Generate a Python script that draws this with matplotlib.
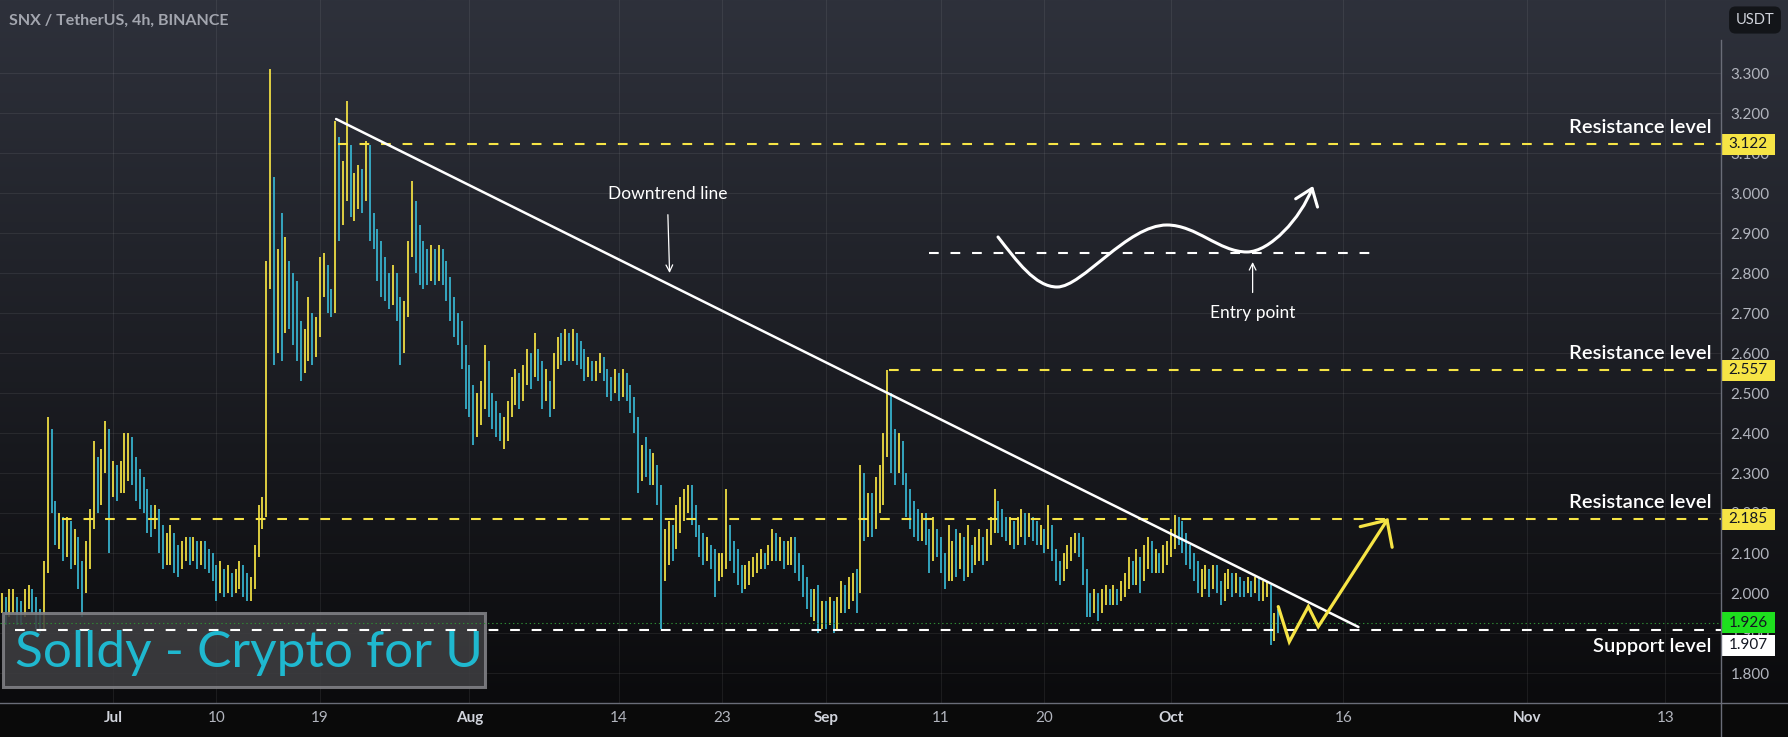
import numpy as np
import matplotlib
matplotlib.use("Agg")
import matplotlib.pyplot as plt
from matplotlib.colors import LinearSegmentedColormap
from matplotlib.lines import Line2D
from matplotlib.patches import Rectangle, FancyArrowPatch
from matplotlib.path import Path

plt.rcParams['font.family'] = ['Lato', 'DejaVu Sans']
plt.rcParams['lines.scale_dashes'] = False

# SNX/USDT 8h bars, x = days since 1 Jul 2023, first bar 21 Jun 00:00
first_day = -10
first_open = 1.95
closes = [
    1.96, 1.98, 1.95, 1.97, 1.99, 1.96, 1.95, 1.98, 2.00, 1.97, 1.93, 1.92,
    2.06, 2.36, 2.22, 2.15, 2.18, 2.12, 2.16, 2.10, 2.12, 2.05, 2.02, 2.10,
    2.19, 2.30, 2.25, 2.33, 2.40, 2.28, 2.30, 2.27, 2.30, 2.31, 2.37, 2.32,
    2.28, 2.26, 2.24, 2.20, 2.18, 2.20, 2.14, 2.09, 2.12, 2.13, 2.10, 2.08,
    2.11, 2.12, 2.10, 2.12, 2.09, 2.11, 2.10, 2.08, 2.06, 2.02, 2.04, 2.00,
    2.03, 2.01, 2.04, 2.05, 2.02, 2.00, 2.02, 2.10, 2.19, 2.20, 2.78, 2.90,
    2.62, 2.78, 2.65, 2.80, 2.72, 2.68, 2.63, 2.58, 2.60, 2.66, 2.62, 2.64,
    2.78, 2.80, 2.74, 2.72, 3.12, 2.96, 3.02, 3.10, 2.98, 3.00, 3.04, 2.98,
    3.08, 2.92, 2.90, 2.84, 2.80, 2.78, 2.76, 2.78, 2.72, 2.62, 2.70, 2.85,
    2.96, 2.88, 2.84, 2.82, 2.80, 2.84, 2.80, 2.83, 2.81, 2.77, 2.72, 2.68,
    2.66, 2.60, 2.50, 2.48, 2.42, 2.45, 2.50, 2.55, 2.47, 2.44, 2.42, 2.40,
    2.41, 2.45, 2.50, 2.52, 2.49, 2.54, 2.57, 2.55, 2.60, 2.56, 2.50, 2.52,
    2.47, 2.58, 2.62, 2.60, 2.63, 2.61, 2.63, 2.60, 2.59, 2.55, 2.57, 2.55,
    2.56, 2.58, 2.56, 2.52, 2.50, 2.53, 2.51, 2.53, 2.50, 2.48, 2.42, 2.32,
    2.35, 2.33, 2.30, 2.30, 2.25, 2.08, 2.10, 2.14, 2.12, 2.18, 2.21, 2.24,
    2.25, 2.20, 2.17, 2.13, 2.10, 2.12, 2.09, 2.05, 2.07, 2.08, 2.16, 2.12,
    2.09, 2.05, 2.03, 2.04, 2.06, 2.07, 2.08, 2.09, 2.08, 2.10, 2.14, 2.11,
    2.12, 2.09, 2.11, 2.13, 2.08, 2.06, 2.02, 1.99, 1.96, 1.97, 1.93, 1.95,
    1.94, 1.96, 1.95, 1.97, 2.00, 1.98, 2.01, 2.03, 2.02, 2.28, 2.20, 2.23,
    2.18, 2.24, 2.28, 2.36, 2.45, 2.38, 2.33, 2.37, 2.30, 2.25, 2.20, 2.18,
    2.16, 2.18, 2.14, 2.10, 2.14, 2.12, 2.08, 2.04, 2.06, 2.10, 2.07, 2.12,
    2.06, 2.10, 2.08, 2.10, 2.12, 2.09, 2.13, 2.17, 2.22, 2.19, 2.17, 2.15,
    2.17, 2.14, 2.16, 2.18, 2.15, 2.19, 2.16, 2.14, 2.15, 2.13, 2.15, 2.10,
    2.06, 2.04, 2.07, 2.10, 2.12, 2.13, 2.12, 2.04, 1.98, 1.97, 1.99, 1.96,
    1.98, 2.00, 1.99, 2.00, 1.98, 2.01, 2.03, 2.06, 2.05, 2.07, 2.04, 2.09,
    2.11, 2.07, 2.08, 2.06, 2.09, 2.11, 2.14, 2.17, 2.15, 2.13, 2.10, 2.08,
    2.06, 2.03, 2.04, 2.05, 2.03, 2.06, 2.02, 1.99, 2.03, 2.04, 2.02, 2.03,
    2.02, 2.01, 2.02, 2.01, 2.03, 2.00, 2.00, 2.01, 1.90, 1.93, 1.926,
]
highs = [
    1.99, 2.00, 1.99, 2.01, 2.01, 1.99, 1.98, 2.01, 2.02, 2.01, 1.99, 1.96,
    2.08, 2.44, 2.41, 2.23, 2.20, 2.19, 2.19, 2.18, 2.16, 2.14, 2.08, 2.13,
    2.21, 2.38, 2.34, 2.36, 2.43, 2.41, 2.33, 2.32, 2.33, 2.40, 2.40, 2.39,
    2.34, 2.31, 2.29, 2.26, 2.22, 2.22, 2.21, 2.17, 2.15, 2.17, 2.15, 2.12,
    2.13, 2.14, 2.14, 2.14, 2.13, 2.13, 2.13, 2.11, 2.10, 2.07, 2.08, 2.06,
    2.07, 2.05, 2.06, 2.08, 2.07, 2.05, 2.04, 2.12, 2.22, 2.24, 2.83, 3.31,
    3.04, 2.86, 2.95, 2.89, 2.83, 2.80, 2.78, 2.68, 2.66, 2.74, 2.70, 2.69,
    2.84, 2.85, 2.82, 2.76, 3.18, 3.14, 3.08, 3.23, 3.12, 3.05, 3.07, 3.06,
    3.13, 3.12, 2.95, 2.91, 2.88, 2.84, 2.80, 2.82, 2.80, 2.74, 2.73, 2.88,
    3.03, 2.98, 2.92, 2.88, 2.86, 2.87, 2.86, 2.87, 2.86, 2.83, 2.79, 2.74,
    2.70, 2.68, 2.62, 2.57, 2.52, 2.50, 2.53, 2.62, 2.58, 2.50, 2.48, 2.45,
    2.44, 2.48, 2.54, 2.56, 2.55, 2.57, 2.61, 2.60, 2.65, 2.61, 2.58, 2.56,
    2.53, 2.60, 2.64, 2.65, 2.66, 2.65, 2.66, 2.65, 2.63, 2.61, 2.59, 2.58,
    2.58, 2.60, 2.59, 2.56, 2.54, 2.56, 2.55, 2.56, 2.55, 2.52, 2.49, 2.44,
    2.37, 2.39, 2.36, 2.35, 2.32, 2.27, 2.16, 2.18, 2.17, 2.22, 2.24, 2.26,
    2.27, 2.27, 2.22, 2.17, 2.15, 2.14, 2.12, 2.11, 2.10, 2.10, 2.26, 2.17,
    2.13, 2.11, 2.07, 2.07, 2.08, 2.09, 2.10, 2.11, 2.10, 2.12, 2.16, 2.15,
    2.14, 2.13, 2.13, 2.14, 2.14, 2.10, 2.07, 2.04, 2.01, 2.01, 2.02, 1.98,
    1.98, 1.99, 1.98, 1.99, 2.03, 2.02, 2.04, 2.05, 2.06, 2.32, 2.30, 2.25,
    2.25, 2.29, 2.32, 2.40, 2.557, 2.50, 2.41, 2.40, 2.38, 2.30, 2.26, 2.23,
    2.21, 2.20, 2.20, 2.16, 2.19, 2.16, 2.14, 2.10, 2.17, 2.13, 2.16, 2.15,
    2.14, 2.17, 2.12, 2.14, 2.16, 2.14, 2.16, 2.19, 2.26, 2.23, 2.21, 2.19,
    2.19, 2.18, 2.19, 2.21, 2.20, 2.20, 2.19, 2.18, 2.17, 2.16, 2.22, 2.17,
    2.11, 2.08, 2.10, 2.12, 2.14, 2.15, 2.15, 2.14, 2.06, 2.00, 2.01, 2.00,
    2.01, 2.02, 2.01, 2.02, 2.01, 2.03, 2.05, 2.09, 2.08, 2.11, 2.09, 2.12,
    2.14, 2.13, 2.11, 2.10, 2.12, 2.13, 2.16, 2.195, 2.19, 2.18, 2.15, 2.12,
    2.10, 2.08, 2.06, 2.07, 2.06, 2.07, 2.07, 2.03, 2.05, 2.06, 2.05, 2.05,
    2.04, 2.03, 2.04, 2.03, 2.04, 2.04, 2.03, 2.03, 2.02, 1.95, 1.96,
]
lows = [
    1.93, 1.95, 1.92, 1.94, 1.95, 1.92, 1.92, 1.94, 1.96, 1.95, 1.91, 1.90,
    1.91, 2.05, 2.20, 2.12, 2.11, 2.08, 2.09, 2.06, 2.07, 2.01, 1.94, 2.00,
    2.06, 2.16, 2.20, 2.22, 2.30, 2.10, 2.24, 2.23, 2.25, 2.25, 2.28, 2.27,
    2.23, 2.21, 2.20, 2.15, 2.14, 2.16, 2.10, 2.06, 2.07, 2.07, 2.05, 2.04,
    2.06, 2.08, 2.07, 2.08, 2.06, 2.07, 2.06, 2.05, 2.03, 1.98, 2.00, 1.99,
    2.00, 1.99, 2.00, 2.01, 1.99, 1.98, 1.98, 2.01, 2.09, 2.16, 2.19, 2.76,
    2.57, 2.60, 2.58, 2.65, 2.66, 2.62, 2.58, 2.53, 2.55, 2.58, 2.57, 2.59,
    2.66, 2.74, 2.70, 2.69, 2.70, 2.88, 2.92, 2.98, 2.94, 2.93, 2.96, 2.95,
    2.98, 2.88, 2.86, 2.78, 2.74, 2.73, 2.71, 2.72, 2.68, 2.57, 2.60, 2.69,
    2.84, 2.80, 2.77, 2.76, 2.77, 2.78, 2.77, 2.78, 2.77, 2.73, 2.68, 2.64,
    2.62, 2.56, 2.46, 2.44, 2.37, 2.39, 2.42, 2.46, 2.44, 2.41, 2.39, 2.38,
    2.36, 2.38, 2.44, 2.47, 2.46, 2.48, 2.52, 2.51, 2.54, 2.53, 2.46, 2.48,
    2.44, 2.46, 2.56, 2.57, 2.58, 2.58, 2.58, 2.57, 2.56, 2.53, 2.54, 2.53,
    2.53, 2.55, 2.53, 2.49, 2.48, 2.50, 2.48, 2.49, 2.48, 2.45, 2.40, 2.25,
    2.28, 2.29, 2.27, 2.27, 2.22, 1.91, 2.03, 2.07, 2.08, 2.11, 2.15, 2.18,
    2.20, 2.17, 2.14, 2.09, 2.07, 2.08, 2.06, 1.99, 2.03, 2.04, 2.06, 2.08,
    2.05, 2.02, 2.00, 2.01, 2.02, 2.04, 2.05, 2.06, 2.06, 2.07, 2.08, 2.08,
    2.08, 2.06, 2.07, 2.07, 2.05, 2.03, 1.99, 1.96, 1.94, 1.93, 1.90, 1.91,
    1.91, 1.92, 1.90, 1.91, 1.95, 1.95, 1.96, 1.98, 1.95, 2.00, 2.13, 2.14,
    2.14, 2.16, 2.20, 2.22, 2.34, 2.30, 2.27, 2.30, 2.27, 2.19, 2.16, 2.14,
    2.13, 2.13, 2.12, 2.05, 2.08, 2.09, 2.05, 2.01, 2.03, 2.03, 2.04, 2.06,
    2.03, 2.04, 2.05, 2.07, 2.08, 2.07, 2.08, 2.12, 2.15, 2.15, 2.14, 2.13,
    2.12, 2.11, 2.12, 2.14, 2.12, 2.14, 2.13, 2.12, 2.12, 2.10, 2.11, 2.08,
    2.03, 2.02, 2.03, 2.06, 2.08, 2.10, 2.09, 2.02, 1.94, 1.94, 1.95, 1.93,
    1.95, 1.97, 1.97, 1.97, 1.97, 1.98, 1.99, 2.01, 2.02, 2.02, 2.00, 2.03,
    2.06, 2.05, 2.05, 2.05, 2.05, 2.07, 2.09, 2.11, 2.12, 2.10, 2.07, 2.06,
    2.03, 2.00, 1.99, 2.01, 1.99, 2.01, 2.00, 1.97, 1.98, 2.01, 1.99, 2.00,
    1.99, 1.99, 2.00, 1.99, 2.00, 1.98, 1.98, 1.99, 1.87, 1.88, 1.90,
]

# time axis (days since 1 Jul)
tick_days = [0, 9, 18, 31, 44, 53, 62, 72, 81, 92, 107, 123, 135]
tick_labels = ['Jul', '10', '19', 'Aug', '14', '23', 'Sep', '11', '20', 'Oct', '16', 'Nov', '13']
price_ticks = [1.8, 1.9, 2.0, 2.1, 2.2, 2.3, 2.4, 2.5, 2.6, 2.7, 2.8, 2.9, 3.0, 3.1, 3.2, 3.3]

# drawn levels
level_prices = [3.122, 2.557, 2.185, 1.907]
level_starts = [19.6, 67.5, -4.4, -8.5]
level_names = ['Resistance level', 'Resistance level', 'Resistance level', 'Support level']
last_price = 1.926

trend_days = [19.4, 108.3]
trend_prices = [3.185, 1.915]

scenario_days = [101.33, 102.29, 103.94, 104.81, 110.9]
scenario_prices = [1.966, 1.878, 1.966, 1.916, 2.187]

entry_level = 2.85
entry_span = [71.0, 110.2]
# bezier nodes/control points of the sketched move
wave_days = [76.96, 78.6, 80.2, 82.1, 84.3, 88.2, 91.65, 94.2, 96.2, 98.6, 100.6, 103.3, 104.35]
wave_prices = [2.89, 2.83, 2.765, 2.765, 2.765, 2.92, 2.92, 2.92, 2.8525, 2.8525, 2.8525, 2.9375, 3.0175]
entry_point = (99.1, 2.8275)
entry_text = (99.1, 2.70)
trend_note = (48.4, 2.80)
trend_text = (48.2, 2.997)

YEL = '#f6e445'
TEAL = '#38b6d2'
GRID = '#ffffff'
AXTXT = '#b2b5be'

W, H = 1788, 737
fig = plt.figure(figsize=(W / 100, H / 100), dpi=100, facecolor='#0a0a0b')

# background gradient
bg = fig.add_axes([0, 0, 1, 1], zorder=-5)
bg.set_xlim(0, 1)
bg.set_ylim(0, 1)
bg.axis('off')
cmap = LinearSegmentedColormap.from_list('bg', ['#2e313b', '#0b0b0d'])
bg.imshow(np.linspace(0, 1, 256)[:, None], cmap=cmap, aspect='auto',
          extent=[0, 1, 34 / H, 1])
bg.add_patch(Rectangle((0, 0), 1, 34 / H, color='#0a0a0a'))

ax = fig.add_axes([0, 34 / H, 1721 / W, 703 / H])
ax.set_facecolor('none')
ax.set_xlim(-9.826, 139.83)
ax.set_ylim(1.725, 3.4825)
for s in ax.spines.values():
    s.set_visible(False)
ax.set_axisbelow(True)
ax.grid(True, color=GRID, alpha=0.07, lw=0.8)

ax.set_xticks(tick_days)
ax.set_xticklabels(tick_labels)
for lab in ax.get_xticklabels():
    if not lab.get_text().isdigit():
        lab.set_fontweight('bold')
        lab.set_color('#d1d4dc')
    else:
        lab.set_color(AXTXT)
ax.tick_params(axis='x', length=0, pad=6, labelsize=11)
ax.yaxis.tick_right()
ax.set_yticks(price_ticks)
ax.set_yticklabels([f'{p:.3f}' for p in price_ticks])
ax.tick_params(axis='y', length=0, pad=7, labelsize=11, labelcolor=AXTXT)

# OHLC bars
c = np.array(closes)
o = np.r_[first_open, c[:-1]]
hi = np.maximum(np.array(highs), np.maximum(o, c))
lo = np.minimum(np.array(lows), np.minimum(o, c))
t = first_day + np.arange(len(c)) / 3
ax.vlines(t, lo, hi, colors=np.where(c >= o, YEL, TEAL), lw=1.25, zorder=3)

xmax = ax.get_xlim()[1]
ax_w = ax.get_position().width * W
ax_h = ax.get_position().height * H
ppu = ax_h / (ax.get_ylim()[1] - ax.get_ylim()[0])

# watermark box
ax.add_patch(Rectangle((3 / W, (H - 687) / H), 482 / W, 74 / H, transform=fig.transFigure,
                       fc='#3e3e41', ec='#828287', lw=2.2, alpha=0.88, zorder=4, clip_on=False))
ax.text(15 / W, (H - 667) / H, 'Solldy - Crypto for U', transform=fig.transFigure,
        fontsize=37, color='#1fb8cf', va='baseline', ha='left', zorder=6)

# current price line
ax.axhline(last_price, color='#2f8a34', lw=0.8, ls=(0, (1, 2)), zorder=4)

# levels
for p, s0, name in zip(level_prices, level_starts, level_names):
    col = 'white' if name.startswith('Support') else YEL
    ax.plot([s0, xmax], [p, p], color=col, lw=1.5, dashes=(7, 8.5), zorder=5)
    dy = -12 if name.startswith('Support') else 12
    ax.annotate(name, xy=(1, p), xycoords=ax.get_yaxis_transform(), xytext=(-7, dy),
                textcoords='offset points', ha='right', va='center', color='white',
                fontsize=14.5, fontweight='semibold', zorder=6)

# downtrend line
ax.plot(trend_days, trend_prices, color='white', lw=1.8, zorder=5, solid_capstyle='round')
ax.annotate('Downtrend line', xy=trend_note, xytext=trend_text, ha='center', va='center',
            color='white', fontsize=12.5, zorder=6,
            arrowprops=dict(arrowstyle='->', color='white', lw=0.9, shrinkA=7, shrinkB=0,
                            mutation_scale=12))

# sketch of expected move
ax.plot(entry_span, [entry_level, entry_level], color='white', lw=1.5, dashes=(7, 8.5), zorder=5)
codes = [Path.MOVETO] + [Path.CURVE4] * (len(wave_days) - 1)
wave = Path(np.column_stack([wave_days, wave_prices]), codes)
ax.add_patch(FancyArrowPatch(path=wave, arrowstyle='->,head_length=0.4,head_width=0.3',
                             mutation_scale=28, color='white', lw=2.2, zorder=6))
ax.annotate('Entry point', xy=entry_point, xytext=entry_text, ha='center', va='center',
            color='white', fontsize=12.5, zorder=6,
            arrowprops=dict(arrowstyle='->', color='white', lw=0.9, shrinkA=7, shrinkB=0,
                            mutation_scale=12))

zig = Path(np.column_stack([scenario_days, scenario_prices]),
           [Path.MOVETO] + [Path.LINETO] * (len(scenario_days) - 1))
ax.add_patch(FancyArrowPatch(path=zig, arrowstyle='->,head_length=0.4,head_width=0.38',
                             mutation_scale=36, color=YEL, lw=2.3, zorder=6,
                             joinstyle='miter'))

# price labels on the axis
box_prices = [3.122, 2.557, 2.185, last_price, 1.907]
box_colors = [YEL, YEL, YEL, '#1ee01e', '#ffffff']
box_shift = [0, 0, 0, 0, -15]
for p, fc, sh in zip(box_prices, box_colors, box_shift):
    yc = p + sh / ppu
    ax.add_patch(Rectangle((1, yc - 10.5 / ppu), 54 / ax_w, 21 / ppu,
                           transform=ax.get_yaxis_transform(), fc=fc, ec='none',
                           clip_on=False, zorder=7))
    ax.text(1 + 27 / ax_w, yc, f'{p:.3f}', transform=ax.get_yaxis_transform(),
            ha='center', va='center', fontsize=11, color='#131722', zorder=8, clip_on=False)

# axis frame lines
fig.add_artist(Line2D([1721 / W, 1721 / W], [0, (H - 40) / H], color='#6a6d78', lw=1))
fig.add_artist(Line2D([0, 1], [34 / H, 34 / H], color='#6a6d78', lw=1))

fig.text(9 / W, 1 - 21 / H, 'SNX / TetherUS, 4h, BINANCE', color='#a3a6af',
         fontsize=11.5, fontweight='bold', va='center', ha='left')
fig.text(1755 / W, 1 - 20 / H, 'USDT', color='#d1d4dc', fontsize=10.5, ha='center', va='center',
         bbox=dict(boxstyle='round,pad=0.45', fc='#131519', ec='none'))

fig.savefig('out.png', dpi=100, facecolor=fig.get_facecolor())
